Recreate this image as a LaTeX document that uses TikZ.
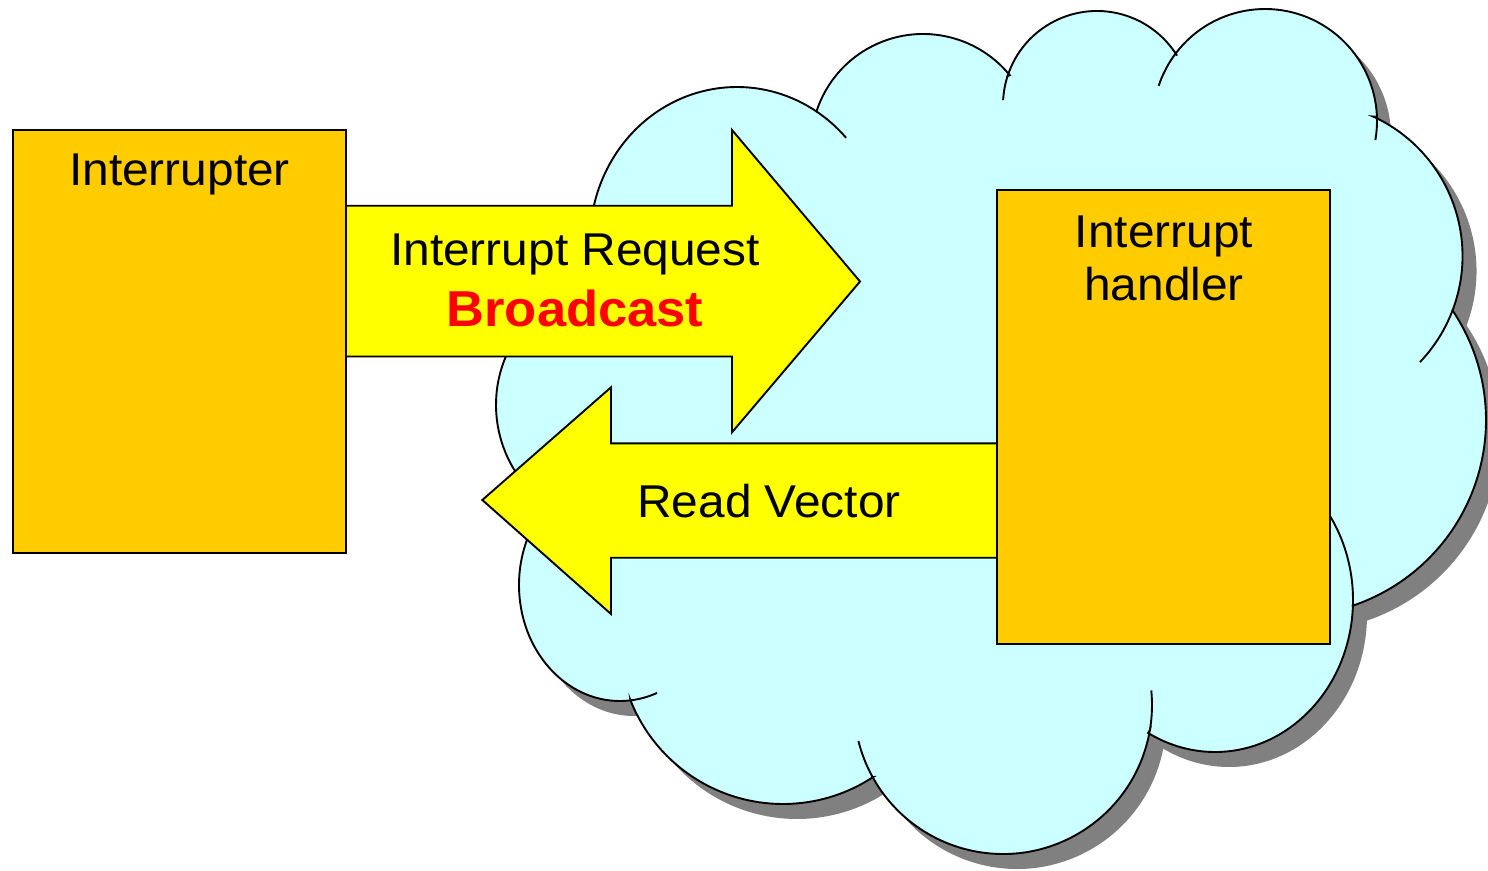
\documentclass[tikz,border=0pt]{standalone}
\usepackage{fontspec}
\setmainfont{Liberation Sans}[FakeStretch=1.04]
\definecolor{boxorange}{HTML}{FFCC00}
\definecolor{arrowyellow}{HTML}{FFFF00}
\definecolor{cloudblue}{HTML}{CCFFFF}
\definecolor{shadowgray}{HTML}{808080}
\definecolor{alertred}{HTML}{FF0000}
\tikzset{
  cloudp/.style={insert path={
    ([shift={(196:147 and 154)}]737,-241) arc[start angle=196,end angle=57.3,x radius=147,y radius=154]
    -- ([shift={(162:112)}]923,-146) arc[start angle=162,end angle=39.2,radius=112]
    -- ([shift={(162:94)}]1097,-105) arc[start angle=162,end angle=31.7,radius=94]
    -- ([shift={(142.8:112)}]1265,-121) arc[start angle=142.8,end angle=2.1,radius=112]
    -- ([shift={(65.3:153.5)}]1309,-256) arc[start angle=65.3,end angle=-20.6,radius=153.5]
    -- ([shift={(34:196)}]1290,-420) arc[start angle=34,end angle=-71.3,radius=196]
    -- ([shift={(-2.2:138 and 152)}]1215,-600) arc[start angle=-2.2,end angle=-119,x radius=138,y radius=152]
    -- ([shift={(-9.7:149)}]1003,-705) arc[start angle=-9.7,end angle=-151,radius=149]
    -- ([shift={(-56.8:164)}]783,-640) arc[start angle=-56.8,end angle=-158.6,radius=164]
    -- ([shift={(-84.1:101 and 116)}]620,-585) arc[start angle=-84.1,end angle=-223.5,x radius=101,y radius=116]
    -- ([shift={(233.95:124)}]620,-405) arc[start angle=233.95,end angle=101.4,radius=124]
    -- cycle}},
  cloudline/.style={draw=black, line width=1.9pt},
  obox/.style={draw=black, fill=boxorange, line width=1.9pt, inner sep=0pt, outer sep=0pt, anchor=north west},
  blockarrow/.style={draw=black, fill=arrowyellow, line width=1.9pt, line join=miter},
  lbl/.style={font=\fontsize{46}{54}\selectfont, inner sep=0pt, anchor=base},
}
\begin{document}
\begin{tikzpicture}[x=1pt,y=1pt]
\useasboundingbox (0,0) rectangle (1488,-870);
% cloud shadow
\begin{scope}[shift={(14,-15)}]
  \fill[shadowgray, cloudp];
\end{scope}
% cloud body
\path[fill=cloudblue, cloudline, cloudp];
% inner hooks of the cloud
\draw[cloudline] ([shift={(57.3:147 and 154)}]737,-241) arc[start angle=57.3,end angle=42.1,x radius=147,y radius=154];
\draw[cloudline] ([shift={(177:94)}]1097,-105) arc[start angle=177,end angle=162,radius=94];
\draw[cloudline] ([shift={(161.7:112)}]1265,-121) arc[start angle=161.7,end angle=142.8,radius=112];
\draw[cloudline] ([shift={(2.1:112)}]1265,-121) arc[start angle=2.1,end angle=-9.8,radius=112];
\draw[cloudline] ([shift={(-20.6:153.5)}]1309,-256) arc[start angle=-20.6,end angle=-43.7,radius=153.5];
\draw[cloudline] ([shift={(35.4:138 and 152)}]1215,-600) arc[start angle=35.4,end angle=-2.2,x radius=138,y radius=152];
\draw[cloudline] ([shift={(5.6:149)}]1003,-705) arc[start angle=5.6,end angle=-9.7,radius=149];
\draw[cloudline] ([shift={(-151:149)}]1003,-705) arc[start angle=-151,end angle=-166,radius=149];
\draw[cloudline] ([shift={(-84.1:101 and 116)}]620,-585) arc[start angle=-84.1,end angle=-68.5,x radius=101,y radius=116];

% boxes
\node[obox, minimum width=333pt, minimum height=423pt] (interrupter) at (13,-130) {};
\node[lbl] (tInterrupter) at (179.5,-185.7) {Interrupter};

% request arrow
\draw[blockarrow] (interrupter.east |- 0,-205.7) -- (732,-205.7) -- (732,-130) -- (860,-281.5)
  -- (732,-432.3) -- (732,-356.5) -- (interrupter.east |- 0,-356.5) -- cycle;
\node[lbl] (tReq) at (575,-265) {Interrupt Request};
\node[lbl, text=alertred, font=\bfseries\fontsize{50.5}{56}\selectfont] (tBroad) at (575,-326) {Broadcast};

% read vector arrow
\coordinate (rvTop) at (997,-443.3);
\coordinate (rvBot) at (997,-557.7);
\draw[blockarrow] (rvTop) -- (611,-443.3) -- (611,-387.3) -- (482.3,-500) -- (611,-614)
  -- (611,-557.7) -- (rvBot) -- cycle;
\node[lbl] (tRead) at (769,-517.3) {Read Vector};

% handler box
\node[obox, minimum width=333pt, minimum height=454pt] (handler) at (997,-190) {};
\node[lbl] (tInt) at (1164,-247) {Interrupt};
\node[lbl] (tHandler) at (1164,-300.5) {handler};
\end{tikzpicture}
\end{document}
